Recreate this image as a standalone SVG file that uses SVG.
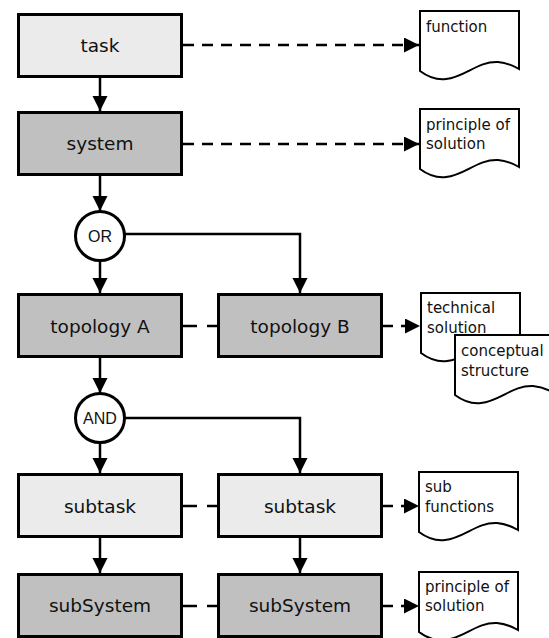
<svg xmlns="http://www.w3.org/2000/svg" width="549" height="638" viewBox="0 0 549 638">
  <style>
    .box { stroke: #000; stroke-width: 3; }
    .light { fill: #ebebeb; }
    .dark { fill: #c0c0c0; }
    .gate { fill: #fff; stroke: #000; stroke-width: 3; }
    .label { font-family: "DejaVu Sans", Verdana, sans-serif; font-size: 18.5px; fill: #111; text-anchor: middle; }
    .gatelabel { font-family: "Liberation Sans", Arial, sans-serif; font-size: 16px; fill: #111; text-anchor: middle; }
    .doc { fill: #fff; stroke: #000; stroke-width: 2; }
    .doctext { font-family: "DejaVu Sans", Verdana, sans-serif; font-size: 15px; fill: #111; }
    .flow { fill: none; stroke: #000; stroke-width: 2.5; }
    .dash { stroke-dasharray: 11 8; }
    .dash2 { stroke-dasharray: 14 10; }
  </style>
  <defs>
    <marker id="arrow" markerUnits="userSpaceOnUse" markerWidth="16" markerHeight="16" refX="15" refY="7.5" orient="auto">
      <path d="M0,0 L15,7.5 L0,15 Z" fill="#000"/>
    </marker>
    <!-- document sheet with a wavy lower edge, 99 wide -->
    <path id="sheet" d="M0,0 H99 V58 C94,55 88,52 78,51 C58,50 45,66 26,68 C17,69 8,66 0,60 Z"/>
  </defs>

  <!-- connectors -->
  <g id="connectors">
    <path class="flow" d="M100,78 V111" marker-end="url(#arrow)"/>
    <path class="flow" d="M100,176 V211" marker-end="url(#arrow)"/>
    <path class="flow" d="M100,261 V293" marker-end="url(#arrow)"/>
    <path class="flow" d="M125,234 H300 V293" marker-end="url(#arrow)"/>
    <path class="flow" d="M100,358 V393" marker-end="url(#arrow)"/>
    <path class="flow" d="M100,443 V473" marker-end="url(#arrow)"/>
    <path class="flow" d="M125,418 H300 V473" marker-end="url(#arrow)"/>
    <path class="flow" d="M100,538 V573" marker-end="url(#arrow)"/>
    <path class="flow" d="M300,538 V573" marker-end="url(#arrow)"/>

    <path class="flow dash2" d="M183,326 H217"/>
    <path class="flow dash2" d="M183,506 H217"/>
    <path class="flow dash2" d="M183,606 H217"/>

    <path class="flow dash" d="M183,45 H419" marker-end="url(#arrow)"/>
    <path class="flow dash" d="M183,144 H419" marker-end="url(#arrow)"/>
    <path class="flow dash" d="M382,326 H420" marker-end="url(#arrow)"/>
    <path class="flow dash" d="M382,506 H419" marker-end="url(#arrow)"/>
    <path class="flow dash" d="M382,606 H419" marker-end="url(#arrow)"/>
  </g>

  <!-- left column -->
  <g id="task">
    <rect class="box light" x="18.5" y="14.5" width="163" height="62"/>
    <text class="label" x="100" y="52">task</text>
  </g>
  <g id="system">
    <rect class="box dark" x="18.5" y="112.5" width="163" height="62"/>
    <text class="label" x="100" y="150">system</text>
  </g>
  <g id="or">
    <circle class="gate" cx="100" cy="236" r="24.5"/>
    <text class="gatelabel" x="100" y="241.7">OR</text>
  </g>
  <g id="topologyA">
    <rect class="box dark" x="18.5" y="294.5" width="163" height="62"/>
    <text class="label" x="100" y="332.5">topology A</text>
  </g>
  <g id="and">
    <circle class="gate" cx="100" cy="418" r="24.5"/>
    <text class="gatelabel" x="100" y="423.7">AND</text>
  </g>
  <g id="subtaskA">
    <rect class="box light" x="18.5" y="474.5" width="163" height="62"/>
    <text class="label" x="100" y="512.5">subtask</text>
  </g>
  <g id="subSystemA">
    <rect class="box dark" x="18.5" y="574.5" width="163" height="62"/>
    <text class="label" x="100" y="612">subSystem</text>
  </g>

  <!-- right column -->
  <g id="topologyB">
    <rect class="box dark" x="218.5" y="294.5" width="163" height="62"/>
    <text class="label" x="300" y="332.5">topology B</text>
  </g>
  <g id="subtaskB">
    <rect class="box light" x="218.5" y="474.5" width="163" height="62"/>
    <text class="label" x="300" y="512.5">subtask</text>
  </g>
  <g id="subSystemB">
    <rect class="box dark" x="218.5" y="574.5" width="163" height="62"/>
    <text class="label" x="300" y="612">subSystem</text>
  </g>

  <!-- documents -->
  <g id="docFunction">
    <use href="#sheet" class="doc" x="420" y="11"/>
    <text class="doctext" x="426" y="32">function</text>
  </g>
  <g id="docPrinciple">
    <use href="#sheet" class="doc" x="420" y="109"/>
    <text class="doctext" x="426" y="130">principle of</text>
    <text class="doctext" x="426" y="149">solution</text>
  </g>
  <g id="docTechnical">
    <use href="#sheet" class="doc" x="421" y="293"/>
    <text class="doctext" x="427" y="313">technical</text>
    <text class="doctext" x="427" y="333">solution</text>
  </g>
  <g id="docConceptual">
    <use href="#sheet" class="doc" x="455" y="335"/>
    <text class="doctext" x="461" y="356">conceptual</text>
    <text class="doctext" x="461" y="376">structure</text>
  </g>
  <g id="docSubFunctions">
    <use href="#sheet" class="doc" x="419" y="472"/>
    <text class="doctext" x="425" y="492">sub</text>
    <text class="doctext" x="425" y="512">functions</text>
  </g>
  <g id="docSubPrinciple">
    <use href="#sheet" class="doc" x="419" y="572"/>
    <text class="doctext" x="425" y="592">principle of</text>
    <text class="doctext" x="425" y="611">solution</text>
  </g>
</svg>
